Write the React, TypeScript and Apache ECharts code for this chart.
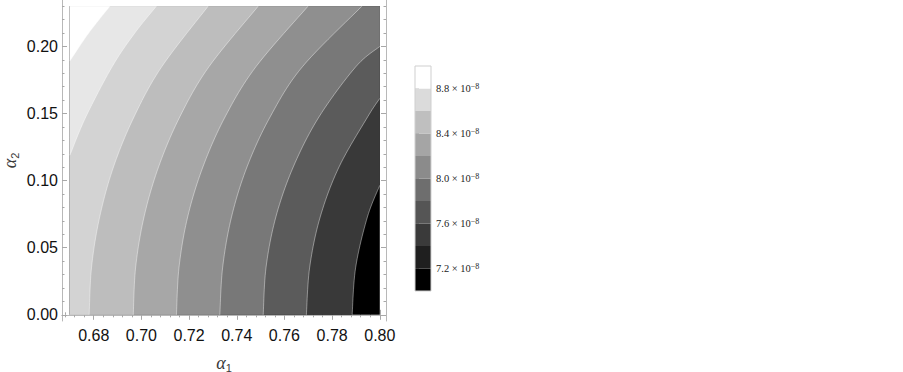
import React, { useEffect, useRef } from "react";
import * as echarts from "echarts";

// ---- data ----
const xRange = [0.67, 0.8];
const yRange = [0, 0.23];
const xAxisExtent = [0.6667, 0.8026];
const yAxisExtent = [-0.0046, 0.2346];

const xMajorTicks = [0.68, 0.7, 0.72, 0.74, 0.76, 0.78, 0.8];
const yMajorTicks = [0, 0.05, 0.1, 0.15, 0.2];
const xMinorTicks = [
  0.668, 0.672, 0.676, 0.684, 0.688, 0.692, 0.696, 0.704, 0.708, 0.712, 0.716,
  0.724, 0.728, 0.732, 0.736, 0.744, 0.748, 0.752, 0.756, 0.764, 0.768, 0.772,
  0.776, 0.784, 0.788, 0.792, 0.796,
];
const yMinorTicks = [
  0.01, 0.02, 0.03, 0.04, 0.06, 0.07, 0.08, 0.09, 0.11, 0.12, 0.13, 0.14, 0.16,
  0.17, 0.18, 0.19, 0.21, 0.22, 0.23,
];

// contour boundary curves (alpha1, alpha2), level in units of 1e-8
const level72 = [[0.7884, 0], [0.7899, 0.0356], [0.7948, 0.0729], [0.8, 0.0965]];
const level74 = [[0.7692, 0], [0.7706, 0.0356], [0.775, 0.0729], [0.7829, 0.1102], [0.7949, 0.1475], [0.8, 0.1613]];
const level76 = [[0.7511, 0], [0.7523, 0.0356], [0.7564, 0.0729], [0.7637, 0.1102], [0.7745, 0.1475], [0.7899, 0.1848], [0.8, 0.2]];
const level78 = [[0.7329, 0], [0.7341, 0.0356], [0.7378, 0.0729], [0.7443, 0.1102], [0.754, 0.1475], [0.7675, 0.1848], [0.7925, 0.23]];
const level80 = [[0.7147, 0], [0.7158, 0.0356], [0.7194, 0.0729], [0.7258, 0.1102], [0.7351, 0.1475], [0.748, 0.1848], [0.7699, 0.23]];
const level82 = [[0.6966, 0], [0.6976, 0.0356], [0.7011, 0.0729], [0.7072, 0.1102], [0.7161, 0.1475], [0.7283, 0.1848], [0.749, 0.23]];
const level84 = [[0.6781, 0], [0.6791, 0.0356], [0.6825, 0.0729], [0.6883, 0.1102], [0.6969, 0.1475], [0.7085, 0.1848], [0.728, 0.23]];
const level86 = [[0.67, 0.1189], [0.6767, 0.1475], [0.6877, 0.1848], [0.6971, 0.2097], [0.7063, 0.23]];
const level88 = [[0.67, 0.1891], [0.6778, 0.2097], [0.6868, 0.23]];

const contourLevels = [7.2, 7.4, 7.6, 7.8, 8.0, 8.2, 8.4, 8.6, 8.8];
const contourCurves = [level72, level74, level76, level78, level80, level82, level84, level86, level88];
const bandFloors = [7.0, 7.2, 7.4, 7.6, 7.8, 8.0, 8.2, 8.4, 8.6, 8.8];
const plotColors = ["#000000", "#393939", "#5b5b5b", "#787878", "#8f8f8f", "#a7a7a7", "#bdbdbd", "#d3d3d3", "#e7e7e7", "#ffffff"];

const legendBounds = [7.0, 7.2, 7.4, 7.6, 7.8, 8.0, 8.2, 8.4, 8.6, 8.8, 9.0];
const legendColors = ["#000000", "#1f1f1f", "#3a3a3a", "#555555", "#6e6e6e", "#8b8b8b", "#a5a5a5", "#bfbfbf", "#dbdbdb", "#ffffff"];
const legendTicks = [7.2, 7.6, 8.0, 8.4, 8.8];

// ---- rendering helpers ----
function smooth(pts: number[][]): number[][] {
  if (pts.length < 3) return pts;
  const out: number[][] = [];
  const n = pts.length;
  for (let i = 0; i < n - 1; i++) {
    const p0 = pts[Math.max(i - 1, 0)];
    const p1 = pts[i];
    const p2 = pts[i + 1];
    const p3 = pts[Math.min(i + 2, n - 1)];
    for (let s = 0; s < 12; s++) {
      const t = s / 12;
      const t2 = t * t;
      const t3 = t2 * t;
      out.push(
        [0, 1].map(
          (k) =>
            0.5 *
            (2 * p1[k] +
              (-p0[k] + p2[k]) * t +
              (2 * p0[k] - 5 * p1[k] + 4 * p2[k] - p3[k]) * t2 +
              (-p0[k] + 3 * p1[k] - 3 * p2[k] + p3[k]) * t3)
        )
      );
    }
  }
  out.push(pts[n - 1]);
  return out;
}

const FRAME = "#b8b8b8";
const TICK = "#a8a8a8";
const sans = "'Liberation Sans', Arial, Helvetica, sans-serif";
const serif = "'Liberation Serif', 'Times New Roman', serif";

const nameRich = {
  a: { fontFamily: serif, fontStyle: "italic", fontSize: 18, color: "#3a3a3a", lineHeight: 20, verticalAlign: "middle" },
  s: { fontFamily: sans, fontSize: 11, color: "#3a3a3a", lineHeight: 11, verticalAlign: "bottom" },
};

export default function App() {
  const ref = useRef<HTMLDivElement>(null);
  useEffect(() => {
    if (!ref.current) return;
    const chart = echarts.init(ref.current, null, { renderer: "svg" });
    const grid = { left: 62, top: 0, width: 324, height: 321, outerBoundsMode: "none", containLabel: false };

    const majorX = (pos: string, labels: boolean, gridIndex: number, name?: string) => ({
      type: "value",
      gridIndex,
      position: pos,
      min: xAxisExtent[0],
      max: xAxisExtent[1],
      name: name,
      nameLocation: "middle",
      nameGap: 32,
      nameTextStyle: { rich: nameRich },
      axisLine: { show: true, lineStyle: { color: FRAME, width: 1 } },
      axisTick: { show: true, inside: true, length: 5, customValues: xMajorTicks, lineStyle: { color: TICK } },
      axisLabel: {
        show: labels,
        customValues: xMajorTicks,
        formatter: (v: number) => v.toFixed(2),
        fontFamily: sans,
        fontSize: 16,
        color: "#111",
        margin: 6,
      },
      splitLine: { show: false },
    });
    const minorX = (pos: string, gridIndex: number) => ({
      type: "value",
      gridIndex,
      position: pos,
      min: xAxisExtent[0],
      max: xAxisExtent[1],
      axisLine: { show: false },
      axisTick: { show: true, inside: true, length: 2.5, customValues: xMinorTicks, lineStyle: { color: TICK } },
      axisLabel: { show: false },
      splitLine: { show: false },
    });
    const majorY = (pos: string, labels: boolean, gridIndex: number, name?: string) => ({
      type: "value",
      gridIndex,
      position: pos,
      min: yAxisExtent[0],
      max: yAxisExtent[1],
      name: name,
      nameLocation: "middle",
      nameRotate: 90,
      nameGap: 42,
      nameTextStyle: { rich: nameRich },
      axisLine: { show: true, lineStyle: { color: FRAME, width: 1 } },
      axisTick: { show: true, inside: true, length: 5, customValues: yMajorTicks, lineStyle: { color: TICK } },
      axisLabel: {
        show: labels,
        customValues: yMajorTicks,
        formatter: (v: number) => v.toFixed(2),
        fontFamily: sans,
        fontSize: 16,
        color: "#111",
        margin: 4,
      },
      splitLine: { show: false },
    });
    const minorY = (pos: string, gridIndex: number) => ({
      type: "value",
      gridIndex,
      position: pos,
      min: yAxisExtent[0],
      max: yAxisExtent[1],
      axisLine: { show: false },
      axisTick: { show: true, inside: true, length: 2.5, customValues: yMinorTicks, lineStyle: { color: TICK } },
      axisLabel: { show: false },
      splitLine: { show: false },
    });

    const option: any = {
      animation: false,
      backgroundColor: "#ffffff",
      grid: [
        grid,
        grid,
        {
          left: 415,
          top: 66,
          width: 16,
          height: 225,
          outerBoundsMode: "none",
          containLabel: false,
          show: true,
          backgroundColor: "transparent",
          borderColor: "#cfcfcf",
          borderWidth: 1,
          z: 10,
        },
      ],
      xAxis: [
        majorX("bottom", true, 0, "{a|α}{s|1}"),
        majorX("top", false, 0),
        minorX("bottom", 1),
        minorX("top", 1),
        { type: "value", gridIndex: 2, min: 0, max: 1, show: false },
      ],
      yAxis: [
        majorY("left", true, 0, "{a|α}{s|2}"),
        majorY("right", false, 0),
        minorY("left", 1),
        minorY("right", 1),
        {
          type: "value",
          gridIndex: 2,
          position: "right",
          min: legendBounds[0],
          max: legendBounds[legendBounds.length - 1],
          axisLine: { show: false },
          splitLine: { show: false },
          axisTick: { show: true, inside: false, length: 4, customValues: legendTicks, lineStyle: { color: "#aaa" } },
          axisLabel: {
            show: true,
            customValues: legendTicks,
            margin: 5,
            formatter: (v: number) => `{m|${v.toFixed(1)} × 10}{e|−8}`,
            rich: {
              m: { fontFamily: serif, fontSize: 10.5, color: "#222", lineHeight: 12, verticalAlign: "middle" },
              e: { fontFamily: serif, fontSize: 8, color: "#222", lineHeight: 7, verticalAlign: "top" },
            },
          },
        },
      ],
      series: [
        {
          type: "custom",
          xAxisIndex: 0,
          yAxisIndex: 0,
          data: bandFloors.map((lvl, i) => [i, lvl]),
          encode: { x: -1, y: -1 },
          renderItem: (params: any, api: any) => {
            const i = params.dataIndex;
            if (i === 0) {
              const a = api.coord([xRange[0], yRange[1]]);
              const b = api.coord([xRange[1], yRange[0]]);
              return {
                type: "rect",
                shape: { x: a[0], y: a[1], width: b[0] - a[0], height: b[1] - a[1] },
                style: { fill: plotColors[0] },
                z2: 0,
              };
            }
            const curve = contourCurves[i - 1];
            const px = curve.map((p) => api.coord(p));
            const sm = smooth(px);
            const poly = sm.slice();
            const first = curve[0];
            const last = curve[curve.length - 1];
            if (last[0] >= xRange[1]) poly.push(api.coord([xRange[1], yRange[1]]));
            poly.push(api.coord([xRange[0], yRange[1]]));
            if (first[1] <= yRange[0]) poly.push(api.coord([xRange[0], yRange[0]]));
            return {
              type: "group",
              children: [
                { type: "polygon", shape: { points: poly }, style: { fill: plotColors[i] }, z2: i * 2 },
                {
                  type: "polyline",
                  shape: { points: sm },
                  style: { stroke: "rgba(255,255,255,0.45)", lineWidth: 0.9, fill: "none" },
                  z2: i * 2 + 1,
                },
              ],
            };
          },
        },
        {
          type: "custom",
          xAxisIndex: 4,
          yAxisIndex: 4,
          data: legendColors.map((_, i) => [0, legendBounds[i], legendBounds[i + 1]]),
          encode: { x: 0, y: [1, 2] },
          renderItem: (params: any, api: any) => {
            const i = params.dataIndex;
            const a = api.coord([0, api.value(2)]);
            const b = api.coord([1, api.value(1)]);
            return {
              type: "rect",
              shape: { x: a[0], y: a[1], width: b[0] - a[0], height: b[1] - a[1] },
              style: { fill: legendColors[i] },
            };
          },
        },
      ],
    };
    chart.setOption(option);
    return () => chart.dispose();
  }, []);
  return (
    <div
      ref={ref}
      style={{ position: "fixed", left: 0, top: 0, width: 903, height: 372, background: "#fff" }}
    />
  );
}
